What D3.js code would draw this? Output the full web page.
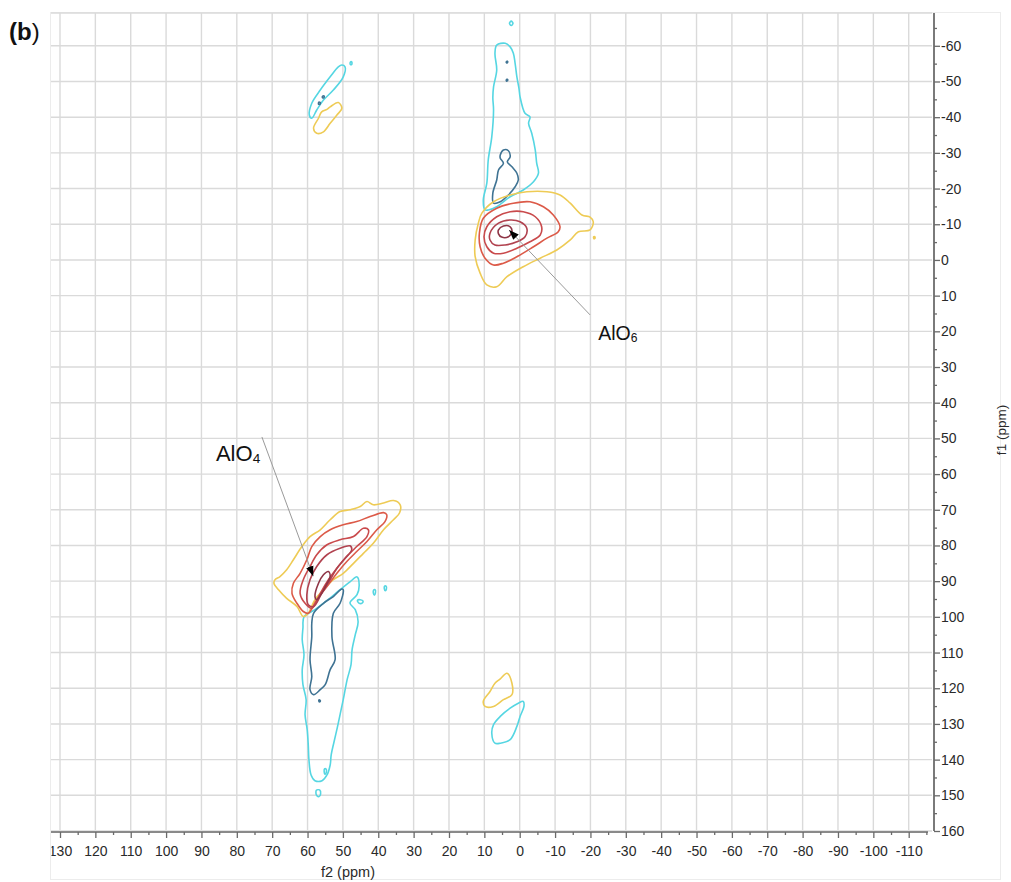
<!DOCTYPE html>
<html>
<head>
<meta charset="utf-8">
<script src="https://cdn.jsdelivr.net/npm/d3@7/dist/d3.min.js"></script>
<style>
  html, body { margin: 0; padding: 0; background: #fff; }
  svg { display: block; }
  text { font-family: "Liberation Sans", Arial, sans-serif; }
</style>
</head>
<body>
<svg id="chart" width="1011" height="882"></svg>
<script>
// ---- axis ticks (ppm) ----
const f2Ticks = d3.range(130, -111, -10);          // 130 ... -110
const f2Minor = d3.range(125, -116, -5).filter(v => v % 10 !== 0);
const f1Ticks = d3.range(-60, 161, 10);            // -60 ... 160
const f1Minor = d3.range(-65, 160, 5).filter(v => v % 10 !== 0);

// ---- contour outlines, [f2 ppm, f1 ppm] ----
// AlO6 cross peak (around f2 ≈ 5, f1 ≈ -8)
const alo6Yellow = [[10.7,-13.1],[7.4,-16.3],[2.7,-18.2],[-2.0,-19.1],[-7.7,-19.1],[-11.4,-18.2],[-14.3,-15.9],[-17.6,-12.6],[-19.9,-12.0],[-20.8,-10.7],[-19.9,-8.4],[-16.6,-7.9],[-14.3,-5.6],[-10.5,-2.8],[-5.8,-0.5],[-1.0,1.9],[3.6,4.7],[6.5,7.5],[9.3,7.0],[11.2,3.7],[12.6,-0.9],[12.6,-5.6],[11.7,-10.3]];
const alo6YellowDot = [[-20.9,-6.5],[-21.2,-6.5],[-21.3,-6.1],[-21.0,-5.9]];
const alo6Red1 = [[10.3,-11.7],[6.5,-14.5],[1.8,-15.9],[-2.9,-16.3],[-6.7,-14.9],[-9.5,-12.6],[-11.4,-9.3],[-10.9,-7.9],[-7.7,-6.1],[-3.9,-3.7],[0.8,-0.9],[4.6,0.9],[7.4,1.4],[9.8,-0.5],[11.2,-3.7],[11.4,-7.5]];
const alo6Red2 = [[9.3,-9.3],[6.5,-12.1],[2.7,-13.5],[-1.0,-13.5],[-4.4,-12.1],[-6.2,-9.3],[-5.8,-7.0],[-2.9,-5.1],[0.8,-3.3],[4.6,-1.9],[7.4,-1.9],[9.3,-3.7],[10.1,-6.5]];
const alo6Red3 = [[8.4,-7.5],[6.0,-10.3],[2.7,-11.2],[-0.1,-10.7],[-2.0,-8.9],[-1.5,-6.5],[0.8,-5.1],[4.1,-4.2],[7.0,-4.2],[8.4,-5.6]];
const alo6Inner = [[6.0,-8.4],[4.6,-9.5],[2.7,-9.3],[2.2,-7.9],[3.2,-6.5],[5.1,-6.4],[6.0,-7.3]];
const alo6Cyan = [[9.8,-14.0],[10.3,-16.8],[9.3,-21.5],[8.9,-28.0],[7.9,-34.5],[7.4,-42.0],[7.6,-45.5],[7.4,-48.5],[6.5,-53.2],[7.0,-57.9],[6.5,-60.2],[4.1,-60.7],[2.7,-59.7],[1.8,-57.9],[1.3,-55.1],[0.8,-51.3],[0.2,-48.0],[-0.1,-45.7],[-1.5,-41.1],[-2.9,-40.1],[-2.5,-38.3],[-3.4,-35.5],[-4.4,-30.8],[-4.8,-27.1],[-5.3,-24.3],[-3.9,-21.9],[-1.0,-19.6],[2.7,-17.7],[6.5,-14.9],[8.9,-14.0]];
const alo6CyanDot = [[2.9,-66.3],[2.4,-65.7],[1.9,-66.3],[2.4,-66.9]];
const alo6Blue = [[5.5,-29.4],[4.6,-30.8],[3.2,-30.6],[2.7,-28.9],[3.5,-27.5],[2.2,-26.1],[0.8,-24.3],[0.4,-22.4],[1.3,-20.5],[3.2,-18.2],[5.5,-16.3],[7.4,-15.9],[7.6,-18.7],[6.5,-22.4],[6.0,-25.2],[4.6,-27.1],[5.5,-28.5]];
const alo6BlueDots = [[[3.8,-55.5],[3.5,-55.7],[3.4,-55.4],[3.7,-55.2]],[[3.8,-50.4],[3.5,-50.6],[3.4,-50.3],[3.7,-50.1]]];

// small side signals near f2 ≈ 55, f1 ≈ -45
const topCyan = [[50.3,-54.6],[49.4,-54.1],[49.9,-51.3],[52.7,-47.6],[55.5,-44.8],[57.4,-42.0],[58.8,-39.7],[59.5,-40.6],[58.8,-43.9],[56.4,-47.6],[53.6,-51.3],[51.3,-54.1]];
const topCyanDot = [[47.5,-55.5],[47.9,-55.4],[47.9,-54.8],[47.5,-54.8]];
const topBlueDots = [[[56.8,-44.2],[56.4,-44.1],[56.5,-43.6],[56.9,-43.7]],[[55.7,-45.9],[55.3,-45.9],[55.4,-45.4],[55.8,-45.5]]];
const topYellow = [[53.6,-42.9],[51.3,-44.1],[50.3,-42.5],[51.7,-40.6],[53.6,-38.3],[55.5,-35.9],[57.4,-35.5],[58.3,-36.9],[56.9,-39.7],[56.0,-41.5],[54.5,-42.2]];

// AlO4 cross peak (around f2 ≈ 56, f1 ≈ 90)
const alo4Yellow = [[69.2,89.6],[67.8,88.7],[65.9,86.8],[64.0,84.0],[61.6,80.3],[59.3,77.5],[56.4,75.6],[53.6,72.8],[50.8,70.5],[48.0,70.0],[45.1,69.1],[43.2,67.7],[41.4,68.6],[38.5,68.1],[35.7,67.4],[33.8,68.6],[34.0,70.9],[35.7,72.8],[38.5,75.6],[41.4,79.4],[44.2,82.2],[47.0,85.0],[49.9,87.8],[52.7,89.6],[55.5,92.4],[57.9,95.2],[59.8,99.0],[61.2,99.9],[63.0,97.1],[65.9,94.8],[68.2,92.4],[69.5,90.6]];
const alo4Red1 = [[64.4,93.4],[64.0,90.6],[62.1,87.8],[60.2,84.0],[58.8,80.3],[56.4,77.5],[53.6,75.6],[49.9,74.2],[46.1,73.3],[42.3,71.9],[38.5,70.8],[37.6,71.4],[38.1,73.3],[40.4,75.6],[43.2,78.9],[46.1,81.7],[48.9,84.5],[51.7,87.8],[54.5,91.5],[57.4,95.2],[59.8,99.0],[61.2,98.5],[63.0,96.2]];
const alo4Red2 = [[62.1,93.4],[61.2,89.6],[59.3,85.9],[57.4,82.6],[54.5,79.8],[50.8,78.4],[47.0,77.5],[44.2,75.2],[42.8,75.6],[43.2,77.5],[46.1,80.3],[48.9,83.1],[51.7,86.4],[54.1,89.6],[56.4,93.4],[58.8,97.6],[60.7,96.2]];
const alo4Red3 = [[60.2,93.8],[59.3,89.6],[57.4,85.9],[54.5,82.6],[50.8,80.8],[48.0,80.1],[47.5,81.2],[49.4,83.6],[51.7,86.4],[53.6,89.6],[56.0,93.4],[58.3,97.1],[59.8,96.6]];
const alo4Inner = [[57.9,94.3],[56.9,90.6],[55.5,88.2],[54.1,87.3],[53.6,88.7],[54.5,90.6],[56.0,93.4],[57.4,95.2]];
const alo4Cyan = [[61.0,100.0],[57.9,98.0],[54.2,95.2],[50.8,92.4],[48.0,90.2],[46.0,88.8],[45.4,91.0],[46.0,93.8],[48.0,96.1],[46.5,98.0],[45.7,101.4],[46.5,105.0],[47.4,109.2],[47.7,113.4],[48.8,117.6],[49.9,123.2],[50.8,127.4],[51.6,131.1],[52.5,135.0],[53.3,138.6],[53.6,141.5],[54.5,144.3],[55.9,145.9],[57.9,145.9],[59.0,144.3],[59.6,140.1],[59.8,135.8],[60.1,131.6],[60.7,127.4],[60.4,123.2],[61.3,119.0],[61.5,114.8],[61.0,110.6],[61.5,106.4],[61.3,103.1]];
const alo4CyanSpots = [
  [[45.9,95.4],[45.1,95.2],[44.3,95.6],[44.5,96.1],[45.4,96.2]],
  [[41.3,92.5],[40.9,92.4],[40.8,93.3],[41.1,93.9],[41.4,93.3]],
  [[38.2,91.4],[37.8,91.4],[37.7,92.2],[38.0,92.7],[38.3,92.1]],
  [[55.2,142.6],[54.8,142.6],[54.7,143.6],[55.1,144.1],[55.3,143.4]],
  [[57.5,148.6],[56.6,148.5],[56.3,149.6],[56.8,150.4],[57.5,149.9]]
];
const alo4Blue = [[49.9,92.4],[50.8,96.2],[52.7,99.0],[53.1,105.5],[52.2,112.0],[53.6,114.8],[55.0,119.0],[56.4,120.4],[58.3,121.8],[59.3,120.4],[58.8,116.7],[59.3,112.0],[58.8,105.5],[58.8,101.8],[58.3,99.0],[55.5,96.2],[52.7,94.3],[50.3,92.2]];
const alo4BlueDot = [[56.8,123.3],[56.5,123.3],[56.4,123.7],[56.7,123.8]];

// weak signals near f2 ≈ 5, f1 ≈ 125
const lowYellow = [[3.6,115.8],[2.2,118.6],[2.2,121.8],[4.6,123.2],[7.4,125.1],[9.8,125.1],[10.3,123.7],[8.4,120.9],[7.0,118.6],[5.5,117.4]];
const lowCyan = [[-1.0,123.7],[-1.2,125.1],[-0.1,127.9],[0.8,130.7],[2.7,134.4],[5.5,135.4],[7.0,135.4],[7.9,132.6],[7.4,130.2],[5.5,127.9],[2.7,125.6],[0.4,124.2]];

// contour level colours
const levelColor = {
  neg1: "#55d6e2",
  neg2: "#3f7393",
  pos1: "#eecb55",
  pos2: "#dc5a48",
  pos3: "#c94a4c",
  pos4: "#b1424f",
  pos5: "#8e3546"
};

// draw order: negative levels first, positive levels on top
const contours = [
  { pts: alo6Cyan, level: "neg1" }, { pts: alo6CyanDot, level: "neg1" },
  { pts: topCyan, level: "neg1" }, { pts: topCyanDot, level: "neg1" },
  { pts: alo4Cyan, level: "neg1" },
  ...alo4CyanSpots.map(p => ({ pts: p, level: "neg1" })),
  { pts: lowCyan, level: "neg1" },
  { pts: alo6Blue, level: "neg2" },
  ...alo6BlueDots.map(p => ({ pts: p, level: "neg2" })),
  ...topBlueDots.map(p => ({ pts: p, level: "neg2" })),
  { pts: alo4Blue, level: "neg2" }, { pts: alo4BlueDot, level: "neg2" },
  { pts: alo6Yellow, level: "pos1" }, { pts: alo6YellowDot, level: "pos1" },
  { pts: topYellow, level: "pos1" }, { pts: alo4Yellow, level: "pos1" },
  { pts: lowYellow, level: "pos1" },
  { pts: alo6Red1, level: "pos2" }, { pts: alo4Red1, level: "pos2" },
  { pts: alo6Red2, level: "pos3" }, { pts: alo4Red2, level: "pos3" },
  { pts: alo6Red3, level: "pos4" }, { pts: alo4Red3, level: "pos4" },
  { pts: alo6Inner, level: "pos5" }, { pts: alo4Inner, level: "pos5" }
];

// peak annotations: label anchor, leader start, arrow tip (ppm)
const annotations = [
  { main: "AlO", sub: "6", label: [-22.2, 22.4], from: [-19.9, 15.4], to: [3.0, -8.4], size: 19.5 },
  { main: "AlO", sub: "4", label: [85.9, 56.3], from: [72.9, 49.6], to: [58.4, 88.6], size: 22 }
];

// ---- layout ----
const svg = d3.select("#chart");
const plot = { left: 51, right: 930, top: 13, bottom: 831 };
const x = d3.scaleLinear().domain([130, -110]).range([60, 908.7]);
const y = d3.scaleLinear().domain([-60, 160]).range([45.8, 831]);
const tickFont = "'Liberation Sans', Arial, sans-serif";

// outer frame
svg.append("rect")
  .attr("x", 50.5).attr("y", 12.5).attr("width", 950).attr("height", 867)
  .attr("fill", "none").attr("stroke", "#ececec").attr("stroke-width", 1);

// grid
const grid = svg.append("g").attr("stroke", "#dadada").attr("stroke-width", 1.4);
grid.selectAll("line.v").data(f2Ticks).join("line")
  .attr("x1", d => x(d)).attr("x2", d => x(d))
  .attr("y1", plot.top).attr("y2", plot.bottom - 1);
grid.selectAll("line.h").data(f1Ticks).join("line")
  .attr("y1", d => y(d)).attr("y2", d => y(d))
  .attr("x1", plot.left).attr("x2", plot.right + 2);
grid.append("line").attr("x1", plot.left).attr("x2", plot.right + 2)
  .attr("y1", plot.top).attr("y2", plot.top);

// contours
svg.append("clipPath").attr("id", "plotClip").append("rect")
  .attr("x", plot.left).attr("y", plot.top)
  .attr("width", plot.right - plot.left).attr("height", plot.bottom - plot.top);
const line = d3.line().x(d => x(d[0])).y(d => y(d[1]))
  .curve(d3.curveCatmullRomClosed.alpha(0.5));
svg.append("g").attr("clip-path", "url(#plotClip)")
  .selectAll("path").data(contours).join("path")
  .attr("d", d => line(d.pts))
  .attr("fill", "none")
  .attr("stroke", d => levelColor[d.level])
  .attr("stroke-width", 1.6)
  .attr("stroke-linejoin", "round");

// annotations
svg.append("defs").append("marker")
  .attr("id", "tip").attr("viewBox", "0 0 10 10")
  .attr("refX", 10).attr("refY", 5)
  .attr("markerWidth", 10).attr("markerHeight", 10)
  .attr("markerUnits", "userSpaceOnUse")
  .attr("orient", "auto")
  .append("path").attr("d", "M0,1.2 L10,5 L0,8.8 Z").attr("fill", "#000");

const ann = svg.append("g");
annotations.forEach(a => {
  ann.append("line")
    .attr("x1", x(a.from[0])).attr("y1", y(a.from[1]))
    .attr("x2", x(a.to[0])).attr("y2", y(a.to[1]))
    .attr("stroke", "#9a9a9a").attr("stroke-width", 1)
    .attr("marker-end", "url(#tip)");
  const t = ann.append("text")
    .attr("x", x(a.label[0])).attr("y", y(a.label[1]))
    .attr("font-size", a.size).attr("fill", "#111");
  t.append("tspan").text(a.main);
  t.append("tspan").attr("font-size", a.size * 0.62).attr("dy", 2).text(a.sub);
});

// bottom axis (f2)
const fmt = d => String(d);
const xAxisY = 832;
const gx = svg.append("g").attr("transform", `translate(0,${xAxisY})`);
gx.call(d3.axisBottom(x).tickValues(f2Ticks).tickSize(6).tickSizeOuter(0).tickFormat(fmt));
const gxm = svg.append("g").attr("transform", `translate(0,${xAxisY})`);
gxm.call(d3.axisBottom(x).tickValues(f2Minor).tickSize(3).tickSizeOuter(0).tickFormat(""));
gxm.select(".domain").remove();
gx.select(".domain").attr("d", `M${plot.left},0H${plot.right - 2}`)
  .attr("stroke", "#8a8a8a").attr("stroke-width", 2);
[gx, gxm].forEach(g => g.selectAll(".tick line").attr("stroke", "#6a6a6a").attr("stroke-width", 1.3));
gx.selectAll(".tick text").attr("y", 14).attr("dy", "0.71em")
  .attr("fill", "#2a2a2a").attr("font-family", tickFont).attr("font-size", 14);
// the leftmost label runs off the frame edge
svg.append("clipPath").attr("id", "labelClip").append("rect")
  .attr("x", plot.left - x(130)).attr("y", -20).attr("width", 40).attr("height", 60);
gx.selectAll(".tick").filter(d => d === 130).select("text").attr("clip-path", "url(#labelClip)");

svg.append("text").attr("x", 348).attr("y", 877).attr("text-anchor", "middle")
  .attr("font-size", 14.5).attr("fill", "#2a2a2a").attr("font-family", tickFont)
  .text("f2 (ppm)");

// right axis (f1)
const yAxisX = 934;
const gy = svg.append("g").attr("transform", `translate(${yAxisX},0)`);
gy.call(d3.axisRight(y).tickValues(f1Ticks).tickSize(6).tickSizeOuter(0).tickFormat(fmt));
const gym = svg.append("g").attr("transform", `translate(${yAxisX},0)`);
gym.call(d3.axisRight(y).tickValues(f1Minor).tickSize(3).tickSizeOuter(0).tickFormat(""));
gym.select(".domain").remove();
gy.select(".domain").attr("d", `M0,${plot.top}V${plot.bottom}`)
  .attr("stroke", "#7a7a7a").attr("stroke-width", 2);
[gy, gym].forEach(g => g.selectAll(".tick line").attr("stroke", "#6a6a6a").attr("stroke-width", 1.3));
gy.selectAll(".tick text").attr("x", 7).attr("fill", "#2a2a2a")
  .attr("font-family", tickFont).attr("font-size", 14);

svg.append("text")
  .attr("transform", "translate(1006,430) rotate(-90)")
  .attr("text-anchor", "middle").attr("font-size", 13.5).attr("fill", "#2a2a2a")
  .attr("font-family", tickFont)
  .text("f1 (ppm)");

// panel letter
const pl = svg.append("text").attr("x", 9).attr("y", 40).attr("font-size", 24).attr("fill", "#111");
pl.append("tspan").attr("font-weight", "bold").text("(b");
pl.append("tspan").text(")");
</script>
</body>
</html>
